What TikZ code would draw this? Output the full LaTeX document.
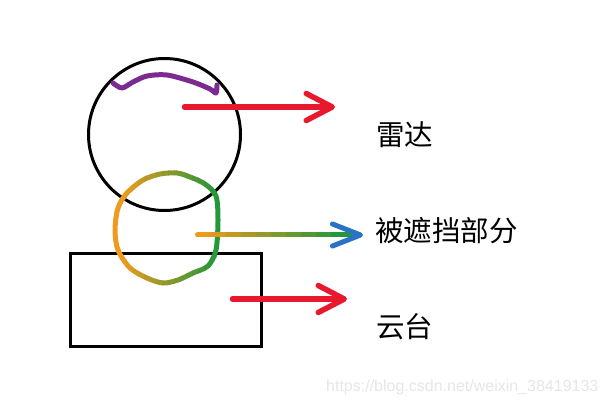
\documentclass[tikz,border=0pt]{standalone}
\usepackage{fontspec}
\newfontfamily\cjk{Noto Sans CJK SC}
\newfontfamily\wmfont{Liberation Sans}
\usetikzlibrary{arrows.meta,calc}

\definecolor{markred}{HTML}{E8192C}
\definecolor{hlpurple}{HTML}{7A2A90}
\definecolor{hlorange}{HTML}{EE9A1E}
\definecolor{hlgreen}{HTML}{22983A}
\definecolor{hlblue}{HTML}{2A72C4}
\definecolor{wmgray}{HTML}{E6E6E6}

% hand-drawn loop round the blocked part
\newcommand\blockloop{plot[smooth cycle] coordinates {(177,173) (190,177) (205,184) (216,196)
  (218,220) (216,250) (208,266) (193,273) (178,280) (163,283) (147,278) (130,268)
  (118,250) (115,230) (118,208) (127,193) (143,180) (160,174)}}

\begin{document}
\begin{tikzpicture}[
  x=1pt, y=-1pt,
  outline/.style={draw=black, line width=3pt, inner sep=0pt},
  redline/.style={draw=markred, line width=5.5pt, line cap=round,
    -{Straight Barb[length=26pt, width=27pt, round]}},
  hlline/.style={line width=5pt, line cap=round, line join=round},
  lbl/.style={font=\cjk\fontsize{28.5}{31}\selectfont, inner sep=0pt, anchor=base west}
]
\useasboundingbox (0,0) rectangle (607,403);

% Nodes
\node[outline, circle, minimum size=152pt] (radar) at (164.5,134.5) {};
\node[outline, rectangle, minimum width=191pt, minimum height=93pt] (gimbal) at (166,300) {};

\node[lbl] (lblradar) at (376,146) {雷达};
\node[lbl] (lblblocked) at (375,241) {被遮挡部分};
\node[lbl] (lblgimbal) at (376,337) {云台};

\node[font=\wmfont\fontsize{16}{18}\selectfont, text=wmgray, inner sep=0pt, anchor=base west]
  (watermark) at (326,391) {https://blog.csdn.net/weixin\_38419133};

% Arrow ends
\coordinate (radarsrc) at (184.5,107);
\coordinate (radartip) at (335,107);
\coordinate (gimbalsrc) at (232.5,299);
\coordinate (gimbaltip) at (347,299);
\coordinate (occsrc) at (197.5,235);
\coordinate (occtip) at (363,235);

% Highlight strokes
\draw[hlline, hlpurple] plot[smooth] coordinates
  {(113,83) (122,88) (133,82) (147,76) (167,75) (193,82) (210,89) (216,93) (217,85)};
\foreach \sx in {108,114,...,222} {
  \pgfmathtruncatemacro\p{min(100,max(0,(\sx-120)*100/92))}
  \begin{scope}
    \clip (\sx,160) rectangle (\sx+6.5,295);
    \draw[hlline, draw=hlgreen!\p!hlorange] \blockloop;
  \end{scope}
}

% Arrows
\draw[redline] (radarsrc) -- (radartip);
\draw[redline] (gimbalsrc) -- (gimbaltip);
\foreach \i in {0,...,9} {
  \pgfmathtruncatemacro\p{100*\i/9}
  \draw[hlline, draw=hlgreen!\p!hlorange] ($(occsrc)!{\i/11}!(occtip)$) -- ($(occsrc)!{(\i+1)/11}!(occtip)$);
}
\draw[hlline, draw=hlgreen, -{Straight Barb[length=28pt, width=22pt, round, color=hlblue]}]
  ($(occsrc)!{10/11}!(occtip)$) -- (occtip);

\end{tikzpicture}
\end{document}
